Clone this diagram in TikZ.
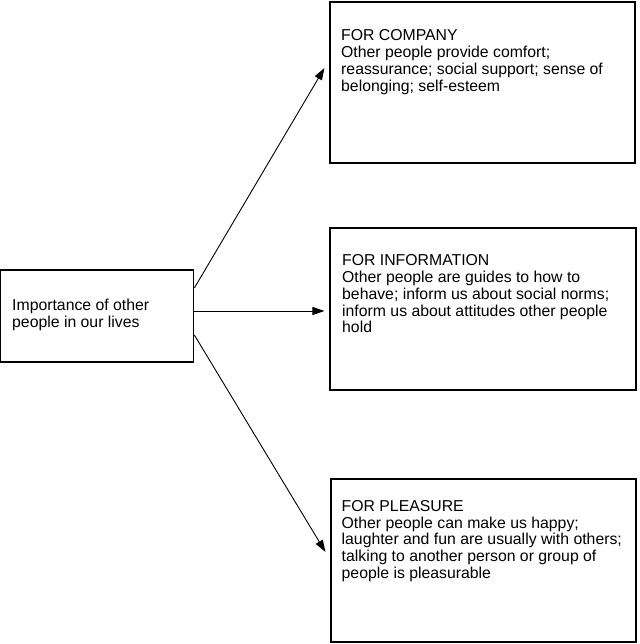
\documentclass[tikz,border=0pt]{standalone}
\usepackage{fontspec}
\setmainfont{Liberation Sans}
\usetikzlibrary{calc,arrows.meta}
\begin{document}
\begin{tikzpicture}[x=1pt,y=1pt,
  boxst/.style={draw=black,line width=1.1pt,rectangle,inner sep=0pt},
  txt/.style={anchor=north west,inner sep=0pt,align=left,font=\fontsize{15.8}{16.8}\selectfont},
  arr/.style={line width=0.9pt,-{Triangle[length=12pt,width=8pt]}}]
\useasboundingbox (0,0) rectangle (639,644);
\node[boxst,minimum width=193pt,minimum height=92pt] (L) at (97.3,328) {};
\node[boxst,minimum width=305pt,minimum height=161pt] (C) at (482.5,561.5) {};
\node[boxst,minimum width=306pt,minimum height=162pt] (I) at (483,335) {};
\node[boxst,minimum width=305pt,minimum height=163pt] (P) at (483.5,83.5) {};
\node[txt] (Lt) at (12,644-299) {Importance of other\\people in our lives};
\node[txt] (Ct) at (341,644-29.5) {FOR COMPANY\\Other people provide comfort;\\reassurance; social support; sense of\\belonging; self-esteem};
\node[txt] (It) at (342,644-254.5) {FOR INFORMATION\\Other people are guides to how to\\behave; inform us about social norms;\\inform us about attitudes other people\\hold};
\node[txt] (Pt) at (341.5,644-500) {FOR PLEASURE\\Other people can make us happy;\\laughter and fun are usually with others;\\talking to another person or group of\\people is pleasurable};
\draw[arr] ($(L.east)+(0,28)$) -- ($(C.west)+(-5,14.5)$);
\draw[arr] ($(L.east)+(0,5)$) -- ($(I.west)+(-5,-2)$);
\draw[arr] ($(L.east)+(0,-19)$) -- ($(P.west)+(-5,8.5)$);
\end{tikzpicture}
\end{document}
